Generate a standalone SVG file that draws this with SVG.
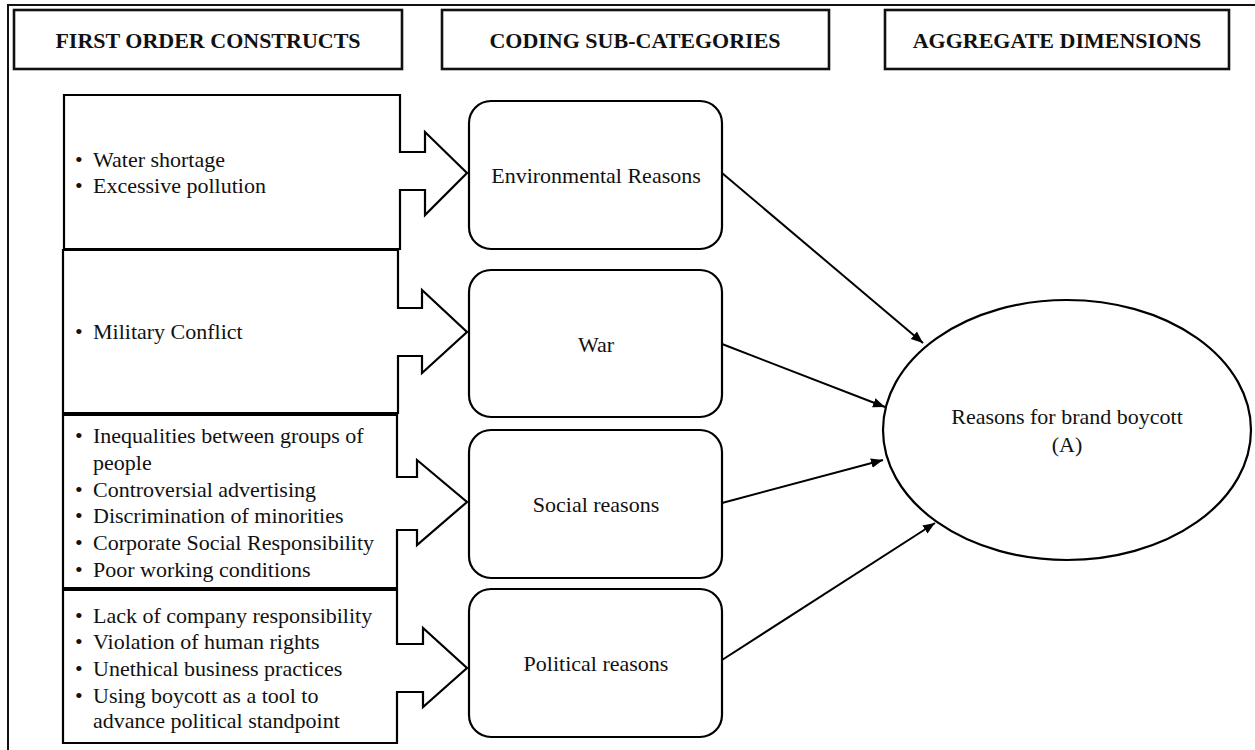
<svg xmlns="http://www.w3.org/2000/svg" width="1255" height="750" viewBox="0 0 1255 750">
<defs>
<style>
text{font-family:"Liberation Serif","Times New Roman",serif;font-size:22px;fill:#111}
.h{font-weight:bold;text-anchor:middle}
.c{text-anchor:middle}
.box{fill:#fff;stroke:#000;stroke-width:2.2}
.hdr{fill:#fff;stroke:#111;stroke-width:2.6}
.conn{stroke:#000;stroke-width:2;fill:none;marker-end:url(#ah)}
</style>
<marker id="ah" viewBox="0 0 10 10" refX="10" refY="5" markerWidth="6" markerHeight="6" markerUnits="strokeWidth" orient="auto">
<path d="M0,1 L10,5 L0,9 Z" fill="#000"/>
</marker>
</defs>
<rect width="1255" height="750" fill="#fff"/>
<g id="frame"><path d="M8,750 V5 H1255" fill="none" stroke="#111" stroke-width="2"/></g>
<g id="hdr1"><rect class="hdr" x="14" y="10" width="388" height="59"/><text class="h" x="208" y="48">FIRST ORDER CONSTRUCTS</text></g>
<g id="hdr2"><rect class="hdr" x="442" y="10" width="387" height="59"/><text class="h" x="635" y="48">CODING SUB-CATEGORIES</text></g>
<g id="hdr3"><rect class="hdr" x="885" y="10" width="344" height="59"/><text class="h" x="1057" y="48">AGGREGATE DIMENSIONS</text></g>

<g id="fo1"><path class="box" d="M64,95 H400 V152 H425 V132 L467,173 L425,215 V190 H400 V249 H64 Z"/>
<text x="75" y="167">•</text><text x="93" y="167">Water shortage</text>
<text x="75" y="193">•</text><text x="93" y="193">Excessive pollution</text></g>
<g id="fo2"><path class="box" d="M63,250 H398 V308 H422 V290 L467,332 L422,373 V356 H398 V413 H63 Z"/>
<text x="75" y="339">•</text><text x="93" y="339">Military Conflict</text></g>
<g id="fo3"><path class="box" d="M63,415 H397 V477 H417 V460 L467,502 L417,545 V530 H397 V588 H63 Z"/>
<text x="75" y="443">•</text><text x="93" y="443">Inequalities between groups of</text>
<text x="93" y="470">people</text>
<text x="75" y="497">•</text><text x="93" y="497">Controversial advertising</text>
<text x="75" y="523">•</text><text x="93" y="523">Discrimination of minorities</text>
<text x="75" y="550">•</text><text x="93" y="550">Corporate Social Responsibility</text>
<text x="75" y="577">•</text><text x="93" y="577">Poor working conditions</text></g>
<g id="fo4"><path class="box" d="M63,590 H397 V644 H423 V628 L467,668 L423,707 V692 H397 V743 H63 Z"/>
<text x="75" y="623">•</text><text x="93" y="623">Lack of company responsibility</text>
<text x="75" y="649">•</text><text x="93" y="649">Violation of human rights</text>
<text x="75" y="676">•</text><text x="93" y="676">Unethical business practices</text>
<text x="75" y="703">•</text><text x="93" y="703">Using boycott as a tool to</text>
<text x="93" y="728">advance political standpoint</text></g>

<g id="env"><rect class="box" x="469" y="101" width="253" height="148" rx="22"/><text class="c" x="596" y="183">Environmental Reasons</text></g>
<g id="war"><rect class="box" x="469" y="270" width="253" height="147" rx="22"/><text class="c" x="596" y="352">War</text></g>
<g id="social"><rect class="box" x="469" y="430" width="253" height="148" rx="22"/><text class="c" x="596" y="512">Social reasons</text></g>
<g id="political"><rect class="box" x="469" y="589" width="253" height="148" rx="22"/><text class="c" x="596" y="671">Political reasons</text></g>

<g id="agg"><ellipse class="box" cx="1067" cy="430" rx="184" ry="130"/>
<text class="c" x="1067" y="424">Reasons for brand boycott</text><text class="c" x="1067" y="452">(A)</text></g>

<g id="connectors">
<line class="conn" x1="722" y1="173" x2="923" y2="343"/>
<line class="conn" x1="722" y1="344" x2="885" y2="407"/>
<line class="conn" x1="722" y1="503" x2="883" y2="460"/>
<line class="conn" x1="722" y1="660" x2="935" y2="523"/>
</g>
</svg>
